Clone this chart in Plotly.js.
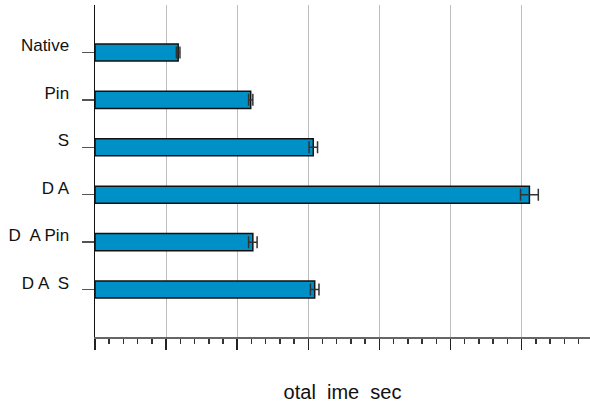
<!DOCTYPE html>
<html>
<head>
<meta charset="utf-8">
<script src="https://cdn.plot.ly/plotly-3.0.1.min.js"></script>
<style>html,body{margin:0;padding:0;background:#fff}#chart{width:590px;height:411px}</style>
</head>
<body>
<div id="chart"></div>
<script>
const categories = ["Native", "Pin", "S", "D A", "D  A Pin", "D A  S"];
const totalTime = [1.17, 2.19, 3.07, 6.11, 2.22, 3.09];
const timeError = [0.025, 0.03, 0.06, 0.125, 0.06, 0.06];
const xTitle = "otal  ime  sec";

const positions = categories.map((c, i) => i);

const trace = {
  type: "bar",
  orientation: "h",
  x: totalTime,
  y: positions,
  width: 0.36,
  marker: { color: "#0090c8", line: { color: "#111111", width: 1.5 } },
  error_x: { type: "data", array: timeError, visible: true, color: "#333333", thickness: 1.5, width: 6 },
  hoverinfo: "none"
};

const layout = {
  width: 590, height: 411,
  margin: { l: 95, r: 0, t: 5, b: 74 },
  paper_bgcolor: "#ffffff", plot_bgcolor: "#ffffff",
  showlegend: false,
  font: { family: "Liberation Sans, Arial, sans-serif", color: "#111111" },
  xaxis: {
    range: [0, 6.962],
    dtick: 1, tick0: 0,
    showgrid: true, gridcolor: "#bdbdbd", gridwidth: 1,
    zeroline: false,
    showline: true, linecolor: "#666666", linewidth: 2,
    ticks: "outside", ticklen: 11, tickwidth: 1.5, tickcolor: "#222222",
    showticklabels: false,
    minor: { dtick: 0.2, ticks: "outside", ticklen: 5, tickwidth: 1.5, tickcolor: "#333333", showgrid: false },
    title: { text: xTitle, font: { size: 20, color: "#111111" }, standoff: 36 }
  },
  yaxis: {
    range: [6.0, -1.0],
    tickmode: "array",
    tickvals: positions,
    ticktext: categories,
    showgrid: false, zeroline: false,
    showline: true, linecolor: "#111111", linewidth: 1.5,
    ticks: "outside", ticklen: 12, tickwidth: 1.5, tickcolor: "#555555",
    ticklabelstandoff: 9,
    ticklabelshift: 7,
    tickfont: { size: 17, color: "#111111" }
  }
};

Plotly.newPlot("chart", [trace], layout, { staticPlot: true, displayModeBar: false });
</script>
</body>
</html>
